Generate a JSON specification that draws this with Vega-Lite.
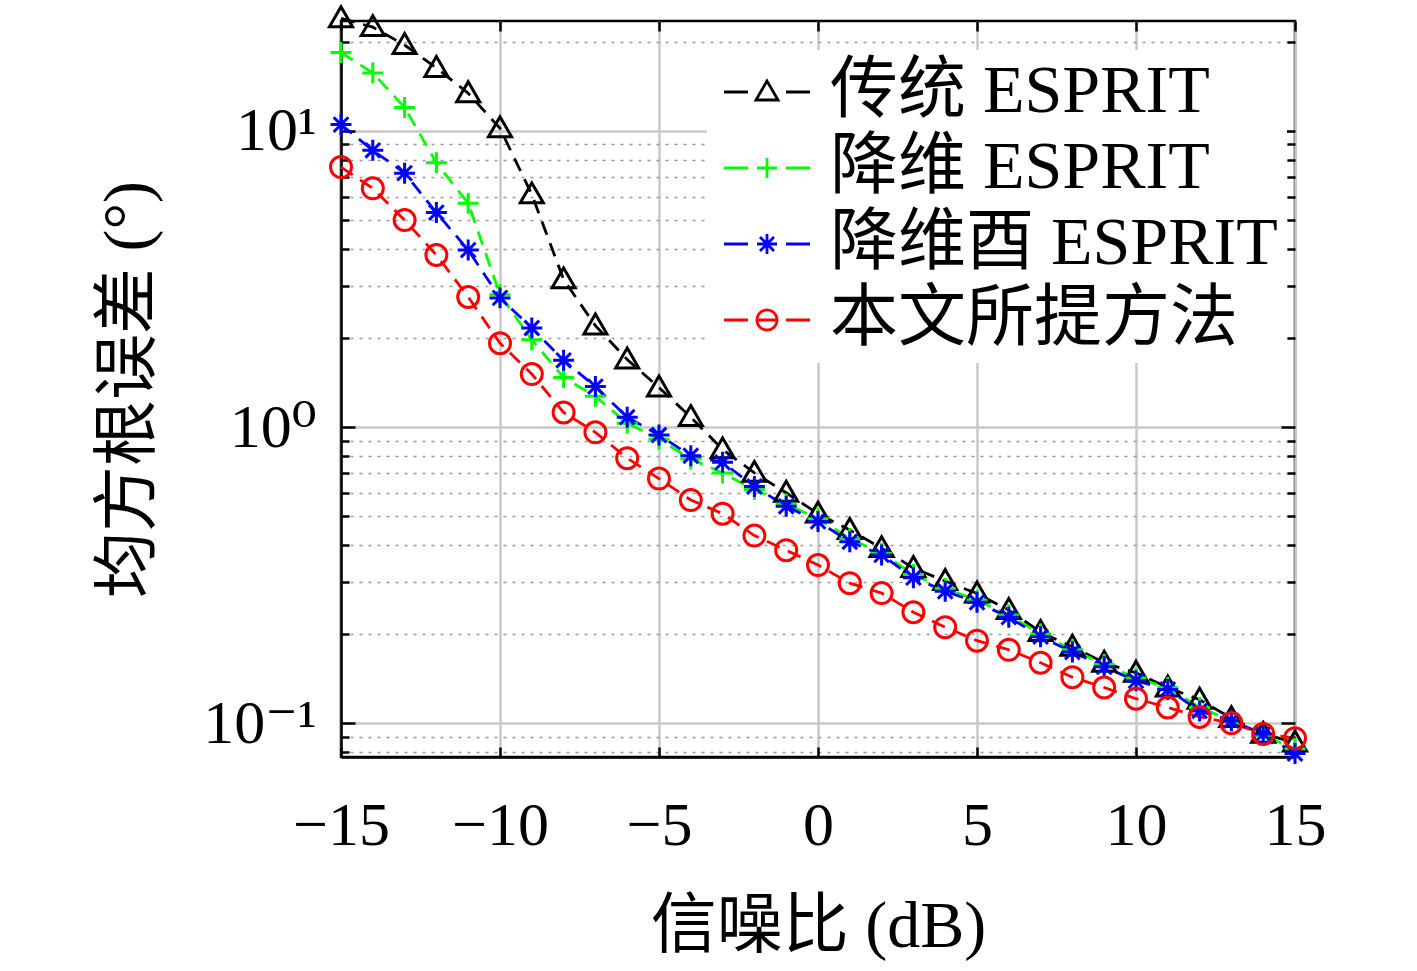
{
  "$schema": "https://vega.github.io/schema/vega-lite/v6.json",
  "width": 954,
  "height": 736,
  "autosize": {"type": "none"},
  "padding": {"left": 341, "top": 21, "right": 122, "bottom": 214},
  "background": "white",
  "config": {
    "view": {"stroke": "black", "strokeWidth": 2.5},
    "font": "Liberation Serif, Noto Sans CJK SC"
  },
  "data": {
    "values": [
      {"snr": -15, "rmse": 24.0, "method": "传统 ESPRIT"},
      {"snr": -14, "rmse": 22.4, "method": "传统 ESPRIT"},
      {"snr": -13, "rmse": 19.5, "method": "传统 ESPRIT"},
      {"snr": -12, "rmse": 16.3, "method": "传统 ESPRIT"},
      {"snr": -11, "rmse": 13.4, "method": "传统 ESPRIT"},
      {"snr": -10, "rmse": 10.2, "method": "传统 ESPRIT"},
      {"snr": -9, "rmse": 6.1, "method": "传统 ESPRIT"},
      {"snr": -8, "rmse": 3.15, "method": "传统 ESPRIT"},
      {"snr": -7, "rmse": 2.2, "method": "传统 ESPRIT"},
      {"snr": -6, "rmse": 1.69, "method": "传统 ESPRIT"},
      {"snr": -5, "rmse": 1.36, "method": "传统 ESPRIT"},
      {"snr": -4, "rmse": 1.08, "method": "传统 ESPRIT"},
      {"snr": -3, "rmse": 0.84, "method": "传统 ESPRIT"},
      {"snr": -2, "rmse": 0.70, "method": "传统 ESPRIT"},
      {"snr": -1, "rmse": 0.60, "method": "传统 ESPRIT"},
      {"snr": 0, "rmse": 0.51, "method": "传统 ESPRIT"},
      {"snr": 1, "rmse": 0.449, "method": "传统 ESPRIT"},
      {"snr": 2, "rmse": 0.39, "method": "传统 ESPRIT"},
      {"snr": 3, "rmse": 0.334, "method": "传统 ESPRIT"},
      {"snr": 4, "rmse": 0.302, "method": "传统 ESPRIT"},
      {"snr": 5, "rmse": 0.274, "method": "传统 ESPRIT"},
      {"snr": 6, "rmse": 0.241, "method": "传统 ESPRIT"},
      {"snr": 7, "rmse": 0.203, "method": "传统 ESPRIT"},
      {"snr": 8, "rmse": 0.181, "method": "传统 ESPRIT"},
      {"snr": 9, "rmse": 0.160, "method": "传统 ESPRIT"},
      {"snr": 10, "rmse": 0.148, "method": "传统 ESPRIT"},
      {"snr": 11, "rmse": 0.132, "method": "传统 ESPRIT"},
      {"snr": 12, "rmse": 0.120, "method": "传统 ESPRIT"},
      {"snr": 13, "rmse": 0.104, "method": "传统 ESPRIT"},
      {"snr": 14, "rmse": 0.092, "method": "传统 ESPRIT"},
      {"snr": 15, "rmse": 0.086, "method": "传统 ESPRIT"},

      {"snr": -15, "rmse": 18.4, "method": "降维 ESPRIT"},
      {"snr": -14, "rmse": 15.7, "method": "降维 ESPRIT"},
      {"snr": -13, "rmse": 12.0, "method": "降维 ESPRIT"},
      {"snr": -12, "rmse": 7.8, "method": "降维 ESPRIT"},
      {"snr": -11, "rmse": 5.7, "method": "降维 ESPRIT"},
      {"snr": -10, "rmse": 2.8, "method": "降维 ESPRIT"},
      {"snr": -9, "rmse": 1.97, "method": "降维 ESPRIT"},
      {"snr": -8, "rmse": 1.47, "method": "降维 ESPRIT"},
      {"snr": -7, "rmse": 1.27, "method": "降维 ESPRIT"},
      {"snr": -6, "rmse": 1.03, "method": "降维 ESPRIT"},
      {"snr": -5, "rmse": 0.91, "method": "降维 ESPRIT"},
      {"snr": -4, "rmse": 0.78, "method": "降维 ESPRIT"},
      {"snr": -3, "rmse": 0.70, "method": "降维 ESPRIT"},
      {"snr": -2, "rmse": 0.615, "method": "降维 ESPRIT"},
      {"snr": -1, "rmse": 0.55, "method": "降维 ESPRIT"},
      {"snr": 0, "rmse": 0.49, "method": "降维 ESPRIT"},
      {"snr": 1, "rmse": 0.42, "method": "降维 ESPRIT"},
      {"snr": 2, "rmse": 0.375, "method": "降维 ESPRIT"},
      {"snr": 3, "rmse": 0.318, "method": "降维 ESPRIT"},
      {"snr": 4, "rmse": 0.285, "method": "降维 ESPRIT"},
      {"snr": 5, "rmse": 0.26, "method": "降维 ESPRIT"},
      {"snr": 6, "rmse": 0.232, "method": "降维 ESPRIT"},
      {"snr": 7, "rmse": 0.2, "method": "降维 ESPRIT"},
      {"snr": 8, "rmse": 0.177, "method": "降维 ESPRIT"},
      {"snr": 9, "rmse": 0.158, "method": "降维 ESPRIT"},
      {"snr": 10, "rmse": 0.142, "method": "降维 ESPRIT"},
      {"snr": 11, "rmse": 0.132, "method": "降维 ESPRIT"},
      {"snr": 12, "rmse": 0.113, "method": "降维 ESPRIT"},
      {"snr": 13, "rmse": 0.102, "method": "降维 ESPRIT"},
      {"snr": 14, "rmse": 0.091, "method": "降维 ESPRIT"},
      {"snr": 15, "rmse": 0.082, "method": "降维 ESPRIT"},

      {"snr": -15, "rmse": 10.5, "method": "降维酉 ESPRIT"},
      {"snr": -14, "rmse": 8.6, "method": "降维酉 ESPRIT"},
      {"snr": -13, "rmse": 7.2, "method": "降维酉 ESPRIT"},
      {"snr": -12, "rmse": 5.3, "method": "降维酉 ESPRIT"},
      {"snr": -11, "rmse": 3.96, "method": "降维酉 ESPRIT"},
      {"snr": -10, "rmse": 2.73, "method": "降维酉 ESPRIT"},
      {"snr": -9, "rmse": 2.16, "method": "降维酉 ESPRIT"},
      {"snr": -8, "rmse": 1.68, "method": "降维酉 ESPRIT"},
      {"snr": -7, "rmse": 1.37, "method": "降维酉 ESPRIT"},
      {"snr": -6, "rmse": 1.08, "method": "降维酉 ESPRIT"},
      {"snr": -5, "rmse": 0.94, "method": "降维酉 ESPRIT"},
      {"snr": -4, "rmse": 0.80, "method": "降维酉 ESPRIT"},
      {"snr": -3, "rmse": 0.76, "method": "降维酉 ESPRIT"},
      {"snr": -2, "rmse": 0.63, "method": "降维酉 ESPRIT"},
      {"snr": -1, "rmse": 0.54, "method": "降维酉 ESPRIT"},
      {"snr": 0, "rmse": 0.48, "method": "降维酉 ESPRIT"},
      {"snr": 1, "rmse": 0.41, "method": "降维酉 ESPRIT"},
      {"snr": 2, "rmse": 0.37, "method": "降维酉 ESPRIT"},
      {"snr": 3, "rmse": 0.31, "method": "降维酉 ESPRIT"},
      {"snr": 4, "rmse": 0.279, "method": "降维酉 ESPRIT"},
      {"snr": 5, "rmse": 0.256, "method": "降维酉 ESPRIT"},
      {"snr": 6, "rmse": 0.228, "method": "降维酉 ESPRIT"},
      {"snr": 7, "rmse": 0.196, "method": "降维酉 ESPRIT"},
      {"snr": 8, "rmse": 0.174, "method": "降维酉 ESPRIT"},
      {"snr": 9, "rmse": 0.155, "method": "降维酉 ESPRIT"},
      {"snr": 10, "rmse": 0.139, "method": "降维酉 ESPRIT"},
      {"snr": 11, "rmse": 0.130, "method": "降维酉 ESPRIT"},
      {"snr": 12, "rmse": 0.110, "method": "降维酉 ESPRIT"},
      {"snr": 13, "rmse": 0.102, "method": "降维酉 ESPRIT"},
      {"snr": 14, "rmse": 0.092, "method": "降维酉 ESPRIT"},
      {"snr": 15, "rmse": 0.079, "method": "降维酉 ESPRIT"},

      {"snr": -15, "rmse": 7.55, "method": "本文所提方法"},
      {"snr": -14, "rmse": 6.4, "method": "本文所提方法"},
      {"snr": -13, "rmse": 5.0, "method": "本文所提方法"},
      {"snr": -12, "rmse": 3.81, "method": "本文所提方法"},
      {"snr": -11, "rmse": 2.75, "method": "本文所提方法"},
      {"snr": -10, "rmse": 1.92, "method": "本文所提方法"},
      {"snr": -9, "rmse": 1.51, "method": "本文所提方法"},
      {"snr": -8, "rmse": 1.12, "method": "本文所提方法"},
      {"snr": -7, "rmse": 0.96, "method": "本文所提方法"},
      {"snr": -6, "rmse": 0.785, "method": "本文所提方法"},
      {"snr": -5, "rmse": 0.67, "method": "本文所提方法"},
      {"snr": -4, "rmse": 0.567, "method": "本文所提方法"},
      {"snr": -3, "rmse": 0.51, "method": "本文所提方法"},
      {"snr": -2, "rmse": 0.43, "method": "本文所提方法"},
      {"snr": -1, "rmse": 0.384, "method": "本文所提方法"},
      {"snr": 0, "rmse": 0.342, "method": "本文所提方法"},
      {"snr": 1, "rmse": 0.297, "method": "本文所提方法"},
      {"snr": 2, "rmse": 0.275, "method": "本文所提方法"},
      {"snr": 3, "rmse": 0.237, "method": "本文所提方法"},
      {"snr": 4, "rmse": 0.211, "method": "本文所提方法"},
      {"snr": 5, "rmse": 0.19, "method": "本文所提方法"},
      {"snr": 6, "rmse": 0.177, "method": "本文所提方法"},
      {"snr": 7, "rmse": 0.16, "method": "本文所提方法"},
      {"snr": 8, "rmse": 0.143, "method": "本文所提方法"},
      {"snr": 9, "rmse": 0.132, "method": "本文所提方法"},
      {"snr": 10, "rmse": 0.121, "method": "本文所提方法"},
      {"snr": 11, "rmse": 0.113, "method": "本文所提方法"},
      {"snr": 12, "rmse": 0.105, "method": "本文所提方法"},
      {"snr": 13, "rmse": 0.100, "method": "本文所提方法"},
      {"snr": 14, "rmse": 0.092, "method": "本文所提方法"},
      {"snr": 15, "rmse": 0.089, "method": "本文所提方法"}
    ]
  },
  "resolve": {"axis": {"x": "independent", "y": "independent"}},
  "layer": [
    {
      "mark": {"type": "line", "strokeDash": [14, 9], "strokeWidth": 2.8, "clip": false},
      "encoding": {
        "x": {
          "field": "snr", "type": "quantitative",
          "scale": {"domain": [-15, 15], "nice": false, "zero": false},
          "axis": {
            "orient": "bottom",
            "values": [-15, -10, -5, 0, 5, 10, 15],
            "grid": true, "gridColor": "#c8c8c8", "gridWidth": 2.5,
            "domain": true, "domainColor": "black", "domainWidth": 2.5,
            "ticks": true, "tickSize": -10, "tickColor": "black", "tickWidth": 2.5,
            "labelFont": "Liberation Serif", "labelFontSize": 62, "labelColor": "black",
            "labelPadding": 48, "labelFlush": false,
            "title": "信噪比 (dB)", "titleFont": "Liberation Serif, Noto Sans CJK SC",
            "titleFontSize": 66, "titleFontWeight": "normal", "titleColor": "black",
            "titlePadding": 38
          }
        },
        "y": {
          "field": "rmse", "type": "quantitative",
          "scale": {"type": "log", "domain": [0.0769, 23.5], "nice": false},
          "axis": {
            "orient": "left",
            "values": [0.08, 0.09, 0.1, 0.2, 0.3, 0.4, 0.5, 0.6, 0.7, 0.8, 0.9, 1, 2, 3, 4, 5, 6, 7, 8, 9, 10, 20],
            "labelExpr": "datum.value == 10 ? '10¹' : datum.value == 1 ? '10⁰' : datum.value == 0.1 ? '10⁻¹' : ''",
            "grid": true,
            "gridColor": {"condition": {"test": "datum.value == 0.1 || datum.value == 1 || datum.value == 10", "value": "#c8c8c8"}, "value": "#9a9a9a"},
            "gridDash": {"condition": {"test": "datum.value == 0.1 || datum.value == 1 || datum.value == 10", "value": []}, "value": [3, 6]},
            "gridWidth": {"condition": {"test": "datum.value == 0.1 || datum.value == 1 || datum.value == 10", "value": 2.5}, "value": 1.5},
            "domain": true, "domainColor": "black", "domainWidth": 2.5,
            "ticks": true, "tickColor": "black", "tickWidth": 2.5,
            "tickSize": {"condition": {"test": "datum.value == 0.1 || datum.value == 1 || datum.value == 10", "value": -14}, "value": -8},
            "labelFont": "Liberation Serif, DejaVu Serif", "labelFontSize": 62, "labelColor": "black",
            "labelPadding": 39, "labelFlush": false, "labelOverlap": false,
            "title": "均方根误差 (°)", "titleFont": "Liberation Serif, Noto Sans CJK SC",
            "titleFontSize": 66, "titleFontWeight": "normal", "titleColor": "black",
            "titlePadding": 40
          }
        },
        "color": {
          "field": "method", "type": "nominal",
          "scale": {"domain": ["传统 ESPRIT", "降维 ESPRIT", "降维酉 ESPRIT", "本文所提方法"], "range": ["#000000", "#00ff00", "#0000ff", "#ff0000"]},
          "legend": {
            "title": null, "orient": "none", "legendX": 366, "legendY": 29,
            "fillColor": "white", "strokeColor": "white", "padding": 8,
            "labelFont": "Liberation Serif, Noto Sans CJK SC", "labelFontSize": 68, "labelColor": "black",
            "labelLimit": 700, "labelOffset": 29, "symbolOffset": 18,
            "symbolDash": [1, 0], "symbolFillColor": "transparent", "symbolOpacity": 1,
            "symbolSize": 400, "symbolStrokeWidth": 2.8, "rowPadding": 8
          }
        }
      }
    },
    {
      "transform": [{"filter": "datum.method === '传统 ESPRIT'"}],
      "mark": {"type": "point", "filled": false, "strokeWidth": 3, "size": 440, "opacity": 1, "clip": false, "shape": "M0,-1.1L1.1,0.8L-1.1,0.8Z"},
      "encoding": {
        "x": {
          "field": "snr", "type": "quantitative",
          "axis": {
            "orient": "top", "values": [-15, -10, -5, 0, 5, 10, 15],
            "labels": false, "grid": false, "domain": false, "title": null,
            "ticks": true, "tickSize": -10, "tickColor": "black", "tickWidth": 2.5
          }
        },
        "y": {
          "field": "rmse", "type": "quantitative",
          "axis": {
            "orient": "right",
            "values": [0.08, 0.09, 0.1, 0.2, 0.3, 0.4, 0.5, 0.6, 0.7, 0.8, 0.9, 1, 2, 3, 4, 5, 6, 7, 8, 9, 10, 20],
            "labels": false, "grid": false, "domain": false, "title": null,
            "ticks": true, "tickColor": "black", "tickWidth": 2.5,
            "tickSize": {"condition": {"test": "datum.value == 0.1 || datum.value == 1 || datum.value == 10", "value": -14}, "value": -8}
          }
        },
        "color": {"field": "method", "type": "nominal", "legend": null}
      }
    },
    {
      "transform": [{"filter": "datum.method === '降维 ESPRIT'"}],
      "mark": {"type": "point", "filled": false, "strokeWidth": 3, "size": 440, "opacity": 1, "clip": false, "shape": "M-1,0H1M0,-1V1"},
      "encoding": {
        "x": {"field": "snr", "type": "quantitative", "axis": null},
        "y": {"field": "rmse", "type": "quantitative", "axis": null},
        "color": {"field": "method", "type": "nominal", "legend": null}
      }
    },
    {
      "transform": [{"filter": "datum.method === '降维酉 ESPRIT'"}],
      "mark": {"type": "point", "filled": false, "strokeWidth": 3, "size": 440, "opacity": 1, "clip": false, "shape": "M-1,0H1M0,-1V1M-0.7,-0.7L0.7,0.7M-0.7,0.7L0.7,-0.7"},
      "encoding": {
        "x": {"field": "snr", "type": "quantitative", "axis": null},
        "y": {"field": "rmse", "type": "quantitative", "axis": null},
        "color": {"field": "method", "type": "nominal", "legend": null}
      }
    },
    {
      "transform": [{"filter": "datum.method === '本文所提方法'"}],
      "mark": {"type": "point", "filled": false, "strokeWidth": 3, "size": 440, "opacity": 1, "clip": false, "shape": "M1,0A1,1,0,1,1,-1,0A1,1,0,1,1,1,0Z"},
      "encoding": {
        "x": {"field": "snr", "type": "quantitative", "axis": null},
        "y": {"field": "rmse", "type": "quantitative", "axis": null},
        "color": {"field": "method", "type": "nominal", "legend": null}
      }
    },
    {
      "transform": [{"filter": "false"}],
      "mark": {"type": "point", "filled": false, "strokeWidth": 2.8, "opacity": 1},
      "encoding": {
        "shape": {
          "field": "method", "type": "nominal",
          "scale": {"domain": ["传统 ESPRIT", "降维 ESPRIT", "降维酉 ESPRIT", "本文所提方法"], "range": [
            "M-4.3,0L-1.9,0M1.9,0L4.3,0M0,-1.1L1.1,0.8L-1.1,0.8Z",
            "M-4.3,0L-1.9,0M1.9,0L4.3,0M-1,0L1,0M0,-1L0,1",
            "M-4.3,0L-1.9,0M1.9,0L4.3,0M-1,0L1,0M0,-1L0,1M-0.7,-0.7L0.7,0.7M-0.7,0.7L0.7,-0.7",
            "M-4.3,0L-1.9,0M1.9,0L4.3,0M1,0A1,1,0,1,1,-1,0A1,1,0,1,1,1,0M-1,0L1,0"
          ]},
          "legend": {
            "title": null, "orient": "none", "legendX": 366, "legendY": 29,
            "fillColor": "white", "strokeColor": "white", "padding": 8,
            "labelFont": "Liberation Serif, Noto Sans CJK SC", "labelFontSize": 68, "labelColor": "black",
            "labelLimit": 700, "labelOffset": 29, "symbolOffset": 18,
            "symbolDash": [1, 0], "symbolFillColor": "transparent", "symbolOpacity": 1,
            "symbolSize": 400, "symbolStrokeWidth": 2.8, "rowPadding": 8
          }
        }
      }
    }
  ]
}
